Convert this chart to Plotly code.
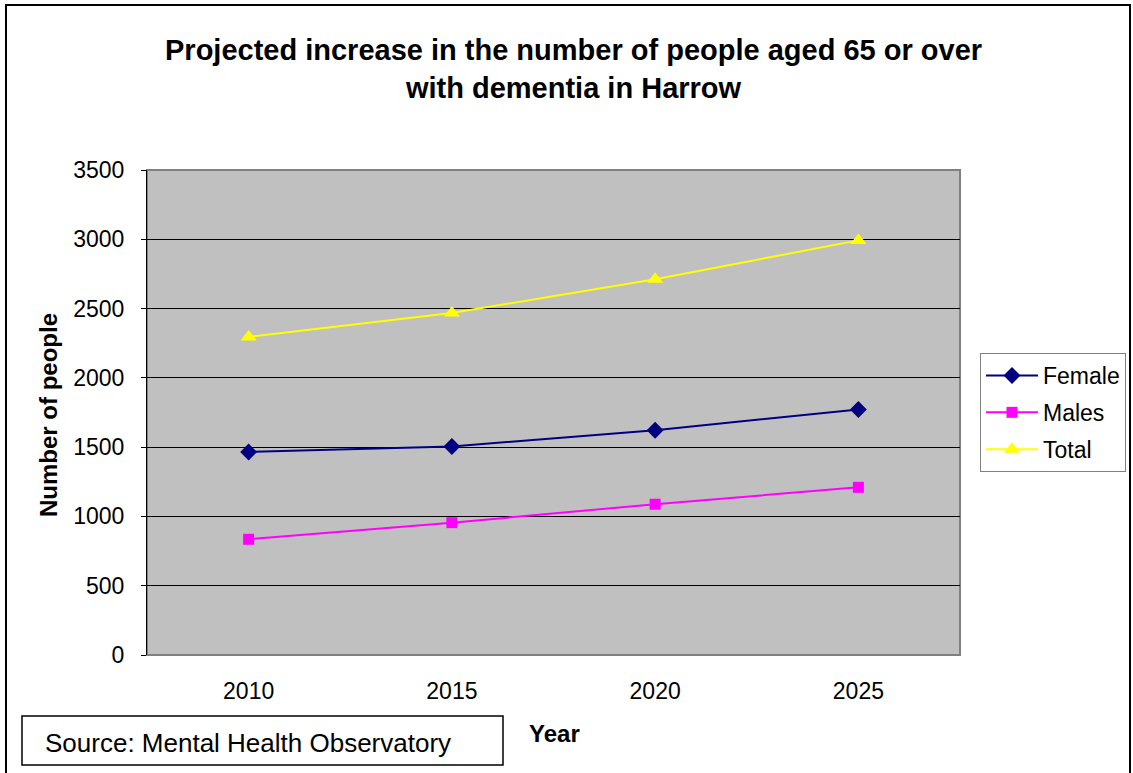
import plotly.graph_objects as go

years = [2010, 2015, 2020, 2025]
female = [1465, 1505, 1622, 1772]
males = [835, 955, 1088, 1210]
total = [2295, 2468, 2712, 2992]

W, H = 1133, 773
L, R, T, B = 147, 960, 170, 655

def px(x):
    return (x - L) / (R - L)

def py(y):
    return (B - y) / (B - T)

FONT = "Liberation Sans, Arial, sans-serif"

fig = go.Figure()
fig.add_trace(go.Scatter(x=years, y=female, name="Female", mode="lines+markers", legendgroup="f",
                         line=dict(color="#000080", width=2),
                         marker=dict(symbol="diamond", size=13, color="#000080")))
fig.add_trace(go.Scatter(x=years, y=males, name="Males", mode="lines+markers", legendgroup="m",
                         line=dict(color="#FF00FF", width=2),
                         marker=dict(symbol="square", size=11, color="#FF00FF")))
fig.add_trace(go.Scatter(x=years, y=total, name="Total", mode="lines+markers", legendgroup="t",
                         line=dict(color="#FFFF00", width=2),
                         marker=dict(symbol="triangle-up", size=14, color="#FFFF00")))

fig.update_layout(
    width=W, height=H,
    margin=dict(l=L, r=W - R, t=T, b=H - B, autoexpand=False),
    paper_bgcolor="white", plot_bgcolor="#C0C0C0",
    font=dict(family=FONT, size=23, color="black"),
    showlegend=True,
    legend=dict(x=px(980), y=py(353), xanchor="left", yanchor="top",
                bordercolor="#808080", borderwidth=1, bgcolor="white",
                font=dict(size=23, family=FONT), tracegroupgap=4, itemwidth=52),
    xaxis=dict(range=[2007.5, 2027.5], tickvals=years, ticktext=[str(y) for y in years],
               showgrid=False, zeroline=False, showline=False, ticks="",
               tickfont=dict(size=23), ticklabelstandoff=20),
    yaxis=dict(range=[0, 3500], dtick=500, showgrid=True, gridcolor="black", gridwidth=1,
               zeroline=False, showline=True, linecolor="black", linewidth=1,
               ticks="outside", ticklen=5, tickcolor="black", tickfont=dict(size=23),
               ticklabelstandoff=12),
)

fig.add_annotation(text="<b>Projected increase in the number of people aged 65 or over<br>with dementia in Harrow</b>",
                   x=px(573), y=py(69), xref="paper", yref="paper", showarrow=False,
                   font=dict(size=29, family=FONT), xanchor="center", yanchor="middle")
fig.add_annotation(text="<b>Number of people</b>", textangle=-90,
                   x=px(48), y=py(415), xref="paper", yref="paper", showarrow=False,
                   font=dict(size=24, family=FONT), xanchor="center", yanchor="middle")
fig.add_annotation(text="<b>Year</b>",
                   x=px(554), y=py(733), xref="paper", yref="paper", showarrow=False,
                   font=dict(size=24, family=FONT), xanchor="center", yanchor="middle")
fig.add_annotation(text="Source: Mental Health Observatory",
                   x=px(43), y=py(743), xref="paper", yref="paper", showarrow=False,
                   font=dict(size=26, family=FONT), xanchor="left", yanchor="middle")

shapes = [
    dict(type="rect", xref="paper", yref="paper", x0=0, y0=0, x1=1, y1=1,
         line=dict(color="#808080", width=2), layer="below"),
    dict(type="rect", xref="paper", yref="paper", x0=px(6), y0=py(800), x1=px(1130), y1=py(5),
         line=dict(color="black", width=2)),
    dict(type="rect", xref="paper", yref="paper", x0=px(22), y0=py(765), x1=px(503), y1=py(716),
         line=dict(color="black", width=1.5)),
]
fig.update_layout(shapes=shapes)

fig.write_html("out.html")
